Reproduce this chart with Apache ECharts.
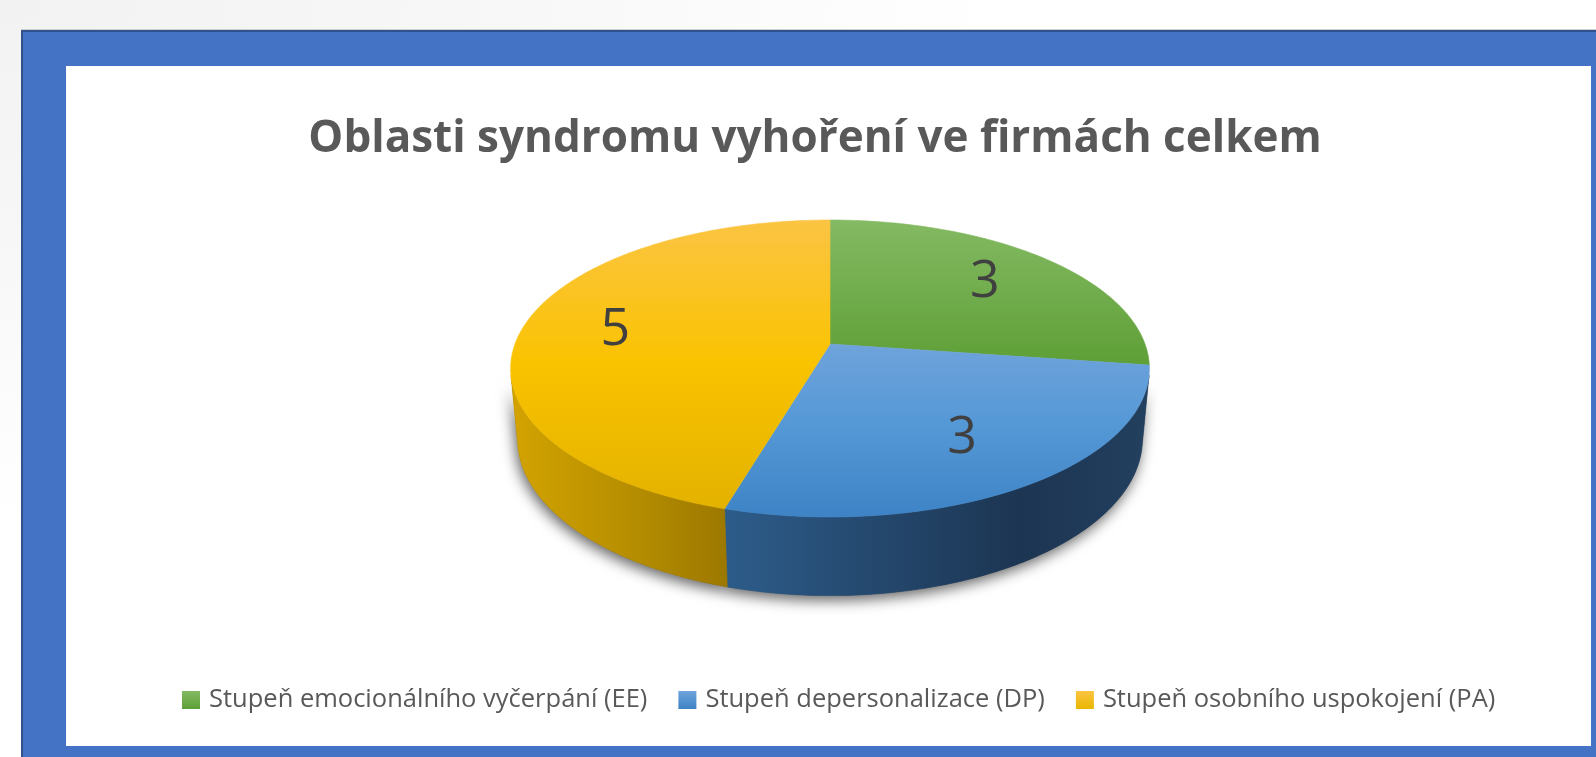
<!DOCTYPE html>
<html>
<head>
<meta charset="utf-8">
<script src="https://cdn.jsdelivr.net/npm/echarts@6/dist/echarts.min.js"></script>
<style>
html,body{margin:0;padding:0;width:1596px;height:757px;overflow:hidden;background:#fff;}
#bg{position:absolute;left:0;top:0;width:1596px;height:757px;background:radial-gradient(ellipse 1000px 520px at 0 0,#f2f2f2 0%,#f7f7f7 45%,#ffffff 100%);}
#frame{position:absolute;left:21px;top:30px;width:1575px;height:727px;background:#4472C4;box-sizing:border-box;border-left:2px solid #2F528F;border-top:2px solid #2F528F;box-shadow:0 -1px 0 #d0d0d0;}
#panel{position:absolute;left:66px;top:66px;width:1525px;height:680px;background:#fff;}
#chart{position:absolute;left:0;top:0;width:1596px;height:757px;}
</style>
</head>
<body>
<div id="bg"></div>
<div id="frame"></div>
<div id="panel"></div>
<div id="chart"></div>
<script>
// ---- data ----
const titleText = 'Oblasti syndromu vyhoření ve firmách celkem';
const categories = ['Stupeň emocionálního vyčerpání (EE)', 'Stupeň depersonalizace (DP)', 'Stupeň osobního uspokojení (PA)'];
const values = [3, 3, 5];

// ---- styles ----
const topColors = [
  [['#84BA63', 0], ['#5E9F36', 1]],
  [['#6FA3DB', 0], ['#5699D7', 0.45], ['#3D83C5', 1]],
  [['#FBC443', 0], ['#FAC300', 0.5], ['#E3B200', 1]]
];
const wallColors = [
  [['#4E8A2A', 0], ['#35601C', 1]],
  [['#2D5C8A', 0], ['#1C3552', 0.7], ['#23405F', 1]],
  [['#D3A300', 0], ['#B38C00', 0.6], ['#9C7800', 1]]
];
const legendColors = [['#84BA63', '#5E9F36'], ['#6FA3DB', '#3D83C5'], ['#FBC443', '#E8B600']];

// ---- 3D layout ----
const P = { cx: 830, cy: 344, R: 315, tilt: 27.3, D: 1697, H: 80, labelR: 0.7 };
const DEG = Math.PI / 180;
function proj(theta, r, yUp) {
  const t = theta * DEG, a = P.tilt * DEG;
  const x = r * Math.sin(t), z = r * Math.cos(t);
  const u = yUp * Math.cos(a) + z * Math.sin(a);
  const w = z * Math.cos(a) - yUp * Math.sin(a);
  const p = P.D / (P.D + w);
  return [P.cx + x * p, P.cy - u * p];
}
function arc(t0, t1, yUp) {
  const pts = [];
  const n = Math.max(2, Math.ceil(Math.abs(t1 - t0)));
  for (let k = 0; k <= n; k++) pts.push(proj(t0 + (t1 - t0) * k / n, P.R, yUp));
  return pts;
}
const visA = Math.acos(-P.R / (P.D * Math.cos(P.tilt * DEG))) / DEG;
const visB = 360 - visA;
const total = values.reduce((a, b) => a + b, 0);

function grad(vertical, stops) {
  return new echarts.graphic.LinearGradient(0, 0, vertical ? 0 : 1, vertical ? 1 : 0,
    stops.map(s => ({ offset: s[1], color: s[0] })));
}

function makeRender(i) {
  return function (params, api) {
    const v = api.value(0);
    let before = 0;
    for (let k = 0; k < i; k++) before += values[k];
    const t0 = before / total * 360, t1 = (before + v) / total * 360;
    const children = [];
    const a = Math.max(t0, visA), b = Math.min(t1, visB);
    if (b > a) {
      const wall = arc(a, b, 0).concat(arc(b, a, -P.H));
      const wg = grad(false, wallColors[i]);
      children.push({ type: 'polygon', z2: 1, shape: { points: wall },
        style: { fill: '#555', shadowBlur: 14, shadowColor: 'rgba(0,0,0,0.6)', shadowOffsetY: 5, shadowOffsetX: -2 } });
      children.push({ type: 'polygon', z2: 10, shape: { points: wall },
        style: { fill: wg, stroke: wg, lineWidth: 0.6 } });
    }
    const top = [proj(0, 0, 0)].concat(arc(t0, t1, 0));
    const tg = grad(true, topColors[i]);
    children.push({ type: 'polygon', z2: 20, shape: { points: top },
      style: { fill: tg, stroke: tg, lineWidth: 0.6 } });
    const lp = proj((t0 + t1) / 2, P.R * P.labelR, 0);
    children.push({ type: 'text', z2: 30, x: lp[0], y: lp[1],
      style: { text: String(v), fill: '#404040', font: '52px "Open Sans"', align: 'center', verticalAlign: 'middle' } });
    return { type: 'group', children };
  };
}

const chart = echarts.init(document.getElementById('chart'), null, { renderer: 'canvas' });
chart.setOption({
  backgroundColor: 'transparent',
  animation: false,
  title: {
    text: titleText, left: 810, top: 112, textAlign: 'center',
    textStyle: { fontFamily: 'Open Sans', fontWeight: 'bold', fontSize: 44, color: '#595959' }
  },
  legend: {
    data: categories, left: 177, top: 682, icon: 'rect', itemWidth: 18, itemHeight: 18, itemGap: 31,
    textStyle: { fontFamily: 'Open Sans', fontSize: 25.5, color: '#595959', padding: [0, 0, 0, 4] },
    selectedMode: false
  },
  series: categories.map((name, i) => ({
    type: 'custom', name, coordinateSystem: 'none', silent: true,
    itemStyle: { color: grad(true, [[legendColors[i][0], 0], [legendColors[i][1], 1]]) },
    renderItem: makeRender(i),
    data: [[values[i]]]
  }))
});
</script>
</body>
</html>
